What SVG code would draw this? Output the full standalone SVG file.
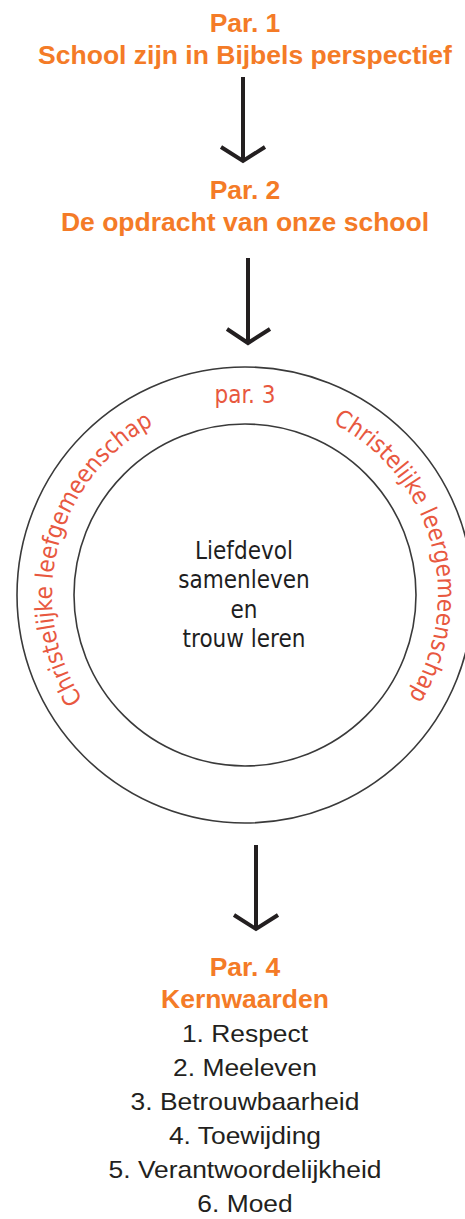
<svg xmlns="http://www.w3.org/2000/svg" xmlns:xlink="http://www.w3.org/1999/xlink" width="465" height="1219" viewBox="0 0 465 1219">
  <style>
    .head { font-family: "Liberation Sans", Arial, sans-serif; font-weight: bold; font-size: 26.5px; fill: #F47B27; text-anchor: middle; }
    .item { font-family: "Liberation Sans", Arial, sans-serif; font-size: 24px; fill: #231F20; text-anchor: middle; }
    .ring { fill: none; stroke: #3a3a3a; stroke-width: 1.6; }
    .arc { font-family: "DejaVu Sans Condensed", "DejaVu Sans", sans-serif; font-stretch: condensed; font-size: 24px; fill: #E8583F; }
    .core { font-family: "DejaVu Sans Condensed", "DejaVu Sans", sans-serif; font-stretch: condensed; font-size: 24px; fill: #1e1e1e; text-anchor: middle; }
    .arrow { fill: none; stroke: #231F20; stroke-width: 4; stroke-linecap: butt; stroke-linejoin: miter; }
  </style>
  <defs>
    <path id="textRing" d="M 245 402 A 193 193 0 1 1 245 788 A 193 193 0 1 1 245 402"/>
  </defs>

  <g id="par1">
    <text class="head" x="245" y="32">Par. 1</text>
    <text class="head" x="245" y="64">School zijn in Bijbels perspectief</text>
  </g>

  <g id="par2">
    <text class="head" x="245" y="199">Par. 2</text>
    <text class="head" x="245" y="231">De opdracht van onze school</text>
  </g>

  <g id="par3">
    <circle class="ring" cx="245" cy="595" r="228"/>
    <circle class="ring" cx="245" cy="595" r="171"/>
    <text class="arc" x="245" y="403" text-anchor="middle">par. 3</text>
    <text class="arc" text-anchor="middle"><textPath xlink:href="#textRing" href="#textRing" startOffset="79%">Christelijke leefgemeenschap</textPath></text>
    <text class="arc" text-anchor="middle"><textPath xlink:href="#textRing" href="#textRing" startOffset="20.7%">Christelijke leergemeenschap</textPath></text>
    <text class="core" x="244" y="559">Liefdevol</text>
    <text class="core" x="244" y="588">samenleven</text>
    <text class="core" x="244" y="618">en</text>
    <text class="core" x="244" y="647">trouw leren</text>
  </g>

  <g id="par4">
    <text class="head" x="245" y="976">Par. 4</text>
    <text class="head" x="245" y="1008">Kernwaarden</text>
    <g transform="translate(245 0) scale(1.1 1) translate(-245 0)">
      <text class="item" x="245" y="1042">1. Respect</text>
      <text class="item" x="245" y="1076">2. Meeleven</text>
      <text class="item" x="245" y="1110">3. Betrouwbaarheid</text>
      <text class="item" x="245" y="1144">4. Toewijding</text>
      <text class="item" x="245" y="1178">5. Verantwoordelijkheid</text>
      <text class="item" x="245" y="1212">6. Moed</text>
    </g>
  </g>

  <g id="connectors">
    <path class="arrow" d="M 243 77 V 161 M 221 147 L 243 161 L 265 147"/>
    <path class="arrow" d="M 248 258 V 343 M 227 329 L 248 343 L 270 329"/>
    <path class="arrow" d="M 256 845 V 929 M 234 915 L 256 929 L 278 915"/>
  </g>
</svg>
